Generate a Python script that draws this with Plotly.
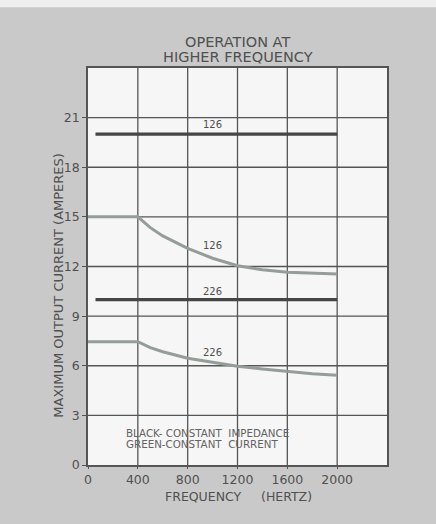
import plotly.graph_objects as go

# Frequency (Hz) and maximum output current (A)
const_imp_freq = [60, 2000]
const_imp_126 = [20, 20]
const_imp_226 = [10, 10]

const_cur_freq = [0, 400, 500, 600, 800, 1000, 1200, 1400, 1600, 1800, 2000]
const_cur_126 = [15, 15, 14.35, 13.85, 13.1, 12.5, 12.05, 11.8, 11.65, 11.58, 11.55]
const_cur_226 = [7.45, 7.45, 7.1, 6.85, 6.45, 6.2, 5.97, 5.8, 5.65, 5.52, 5.43]

x_ticks = [0, 400, 800, 1200, 1600, 2000]
y_ticks = [0, 3, 6, 9, 12, 15, 18, 21]

BLACK = "#454545"
GREEN = "#959d98"
TEXT = "#505050"
FONT = "DejaVu Sans"

fig = go.Figure()
fig.add_trace(go.Scatter(x=const_cur_freq, y=const_cur_126, mode="lines",
                         line=dict(color=GREEN, width=3), hoverinfo="skip"))
fig.add_trace(go.Scatter(x=const_cur_freq, y=const_cur_226, mode="lines",
                         line=dict(color=GREEN, width=3), hoverinfo="skip"))
fig.add_trace(go.Scatter(x=const_imp_freq, y=const_imp_126, mode="lines",
                         line=dict(color=BLACK, width=3.2), hoverinfo="skip"))
fig.add_trace(go.Scatter(x=const_imp_freq, y=const_imp_226, mode="lines",
                         line=dict(color=BLACK, width=3.2), hoverinfo="skip"))

curve_labels = [("126", 1000, 20.6), ("126", 1000, 13.3),
                ("226", 1000, 10.5), ("226", 1000, 6.8)]
for txt, xv, yv in curve_labels:
    fig.add_annotation(x=xv, y=yv, text=txt, showarrow=False,
                       font=dict(family=FONT, size=10, color=TEXT))

fig.add_annotation(x=288, y=1.93, text="BLACK- CONSTANT  IMPEDANCE",
                   xanchor="left", yanchor="middle", showarrow=False,
                   font=dict(family=FONT, size=10.3, color="#636363"))
fig.add_annotation(x=288, y=1.27, text="GREEN-CONSTANT  CURRENT",
                   xanchor="left", yanchor="middle", showarrow=False,
                   font=dict(family=FONT, size=10.3, color="#636363"))

fig.add_annotation(xref="paper", yref="paper", x=0.5, y=1.0655,
                   xanchor="center", yanchor="middle",
                   text="OPERATION AT", showarrow=False,
                   font=dict(family=FONT, size=14.5, color=TEXT))
fig.add_annotation(xref="paper", yref="paper", x=0.5, y=1.0277,
                   xanchor="center", yanchor="middle",
                   text="HIGHER FREQUENCY", showarrow=False,
                   font=dict(family=FONT, size=14.5, color=TEXT))
fig.add_annotation(xref="paper", yref="paper", x=0.505, y=-0.079,
                   xanchor="center", yanchor="middle",
                   text="FREQUENCY&nbsp;&nbsp;&nbsp;&nbsp;&nbsp;(HERTZ)", showarrow=False,
                   font=dict(family=FONT, size=12.5, color=TEXT))
fig.add_annotation(xref="paper", yref="paper", x=-0.1, y=0.452,
                   xanchor="center", yanchor="middle",
                   text="MAXIMUM OUTPUT CURRENT (AMPERES)", textangle=-90,
                   showarrow=False, font=dict(family=FONT, size=13, color=TEXT))

# light page strip above the panel
fig.add_shape(type="rect", xref="paper", yref="paper", layer="below",
              x0=-0.3, x1=1.2, y0=1.153, y1=1.2,
              fillcolor="#efefef", line_width=0)

fig.update_layout(
    width=436, height=524,
    margin=dict(l=88, r=49, t=68, b=59),
    paper_bgcolor="#c9c9c9",
    plot_bgcolor="#f6f6f6",
    showlegend=False,
    font=dict(family=FONT, color=TEXT),
)
fig.update_xaxes(range=[0, 2400], tickvals=x_ticks, ticktext=[str(v) for v in x_ticks],
                 showgrid=False,
                 showline=True, linecolor="#555555", linewidth=1.5, mirror=True,
                 ticks="outside", ticklen=2, tickcolor="#555555",
                 tickfont=dict(size=12.5, color=TEXT), zeroline=False)
fig.update_yaxes(range=[0, 24], tickvals=y_ticks, ticktext=[str(v) for v in y_ticks],
                 showgrid=False,
                 showline=True, linecolor="#555555", linewidth=1.5, mirror=True,
                 ticks="outside", ticklen=4, tickcolor="#555555",
                 tickfont=dict(size=12.5, color=TEXT), zeroline=False)

# full grid (every 400 Hz and every 3 A, including the unlabelled 2400 / 24 lines)
for xv in [400, 800, 1200, 1600, 2000]:
    fig.add_shape(type="line", x0=xv, x1=xv, y0=0, y1=24, layer="below",
                  line=dict(color="#555555", width=1.3))
for yv in [3, 6, 9, 12, 15, 18, 21]:
    fig.add_shape(type="line", x0=0, x1=2400, y0=yv, y1=yv, layer="below",
                  line=dict(color="#555555", width=1.3))

fig.write_html("out.html")
